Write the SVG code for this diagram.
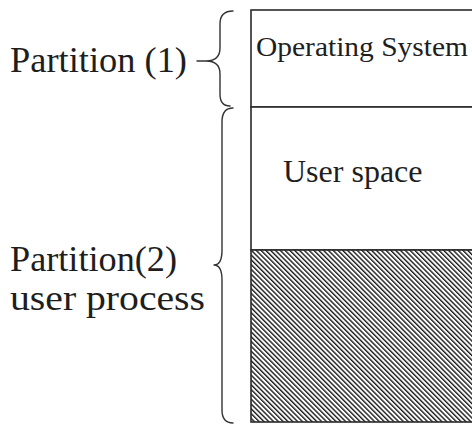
<svg xmlns="http://www.w3.org/2000/svg" width="472" height="426" viewBox="0 0 472 426">
  <style>
    .t { font-family: "Liberation Serif", "Times New Roman", serif; fill: #1e1e1e; }
    .box { fill: #ffffff; stroke: #2a2a2a; stroke-width: 1.6; }
    .brace { fill: none; stroke: #333333; stroke-width: 1.4; stroke-linecap: round; stroke-linejoin: round; }
  </style>
  <defs>
    <pattern id="hatch" patternUnits="userSpaceOnUse" width="3.4" height="10" patternTransform="rotate(-45)">
      <rect x="0" y="0" width="3.4" height="10" fill="#ffffff"/>
      <line x1="0.7" y1="0" x2="0.7" y2="10" stroke="#1a1a1a" stroke-width="1.4"/>
    </pattern>
  </defs>
  <rect width="472" height="426" fill="#ffffff"/>

  <g id="memory">
    <g id="os">
      <rect class="box" x="251" y="10" width="240" height="97"/>
      <text class="t" x="256" y="56" font-size="28" textLength="212" lengthAdjust="spacingAndGlyphs">Operating System</text>
    </g>
    <g id="user-space">
      <rect class="box" x="251" y="107" width="240" height="143"/>
      <text class="t" x="283" y="182" font-size="32">User space</text>
    </g>
    <g id="user-process">
      <rect x="251" y="250" width="240" height="172" fill="url(#hatch)" stroke="#2a2a2a" stroke-width="1.6"/>
    </g>
  </g>

  <g id="partition1">
    <text class="t" x="10" y="72" font-size="35" textLength="177" lengthAdjust="spacingAndGlyphs">Partition (1)</text>
  </g>
  <g id="partition2">
    <text class="t" x="10" y="271" font-size="35" textLength="167" lengthAdjust="spacingAndGlyphs">Partition(2)</text>
    <text class="t" x="10" y="310" font-size="35" textLength="195" lengthAdjust="spacingAndGlyphs">user process</text>
  </g>

  <g id="connectors">
    <path class="brace" d="M233,11 Q220,11 220,24 L220,48 Q220,61 206,61 L197,61 M206,61 Q220,61 220,74 L220,94 Q220,106 230,106"/>
    <path class="brace" d="M233,108 Q222,108 222,122 L222,250 Q222,265 214,265 Q222,265 222,280 L222,410 Q222,423 233,423"/>
  </g>
</svg>
